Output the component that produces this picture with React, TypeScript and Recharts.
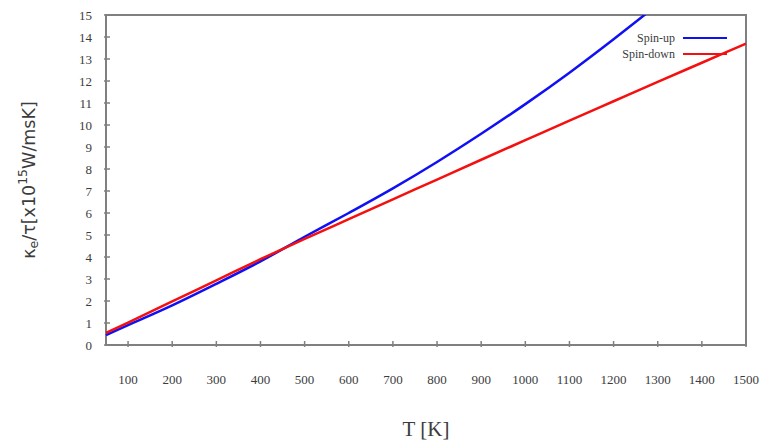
import React from 'react';
import { LineChart, Line, XAxis, YAxis, Legend, ReferenceArea } from 'recharts';

// temperature grid [K]
const temps = [50, 100, 200, 300, 400, 500, 600, 700, 800, 900, 1000, 1100, 1200, 1300, 1400, 1500];
// kappa_e / tau for each spin channel [x10^15 W/msK]
const spinUp = [0.45, 0.9, 1.8, 2.78, 3.8, 4.92, 6.0, 7.12, 8.32, 9.6, 10.95, 12.38, 13.9, 15.48, null, null];
const spinDown = [0.55, 1.02, 1.98, 2.94, 3.9, 4.82, 5.72, 6.62, 7.52, 8.42, 9.31, 10.2, 11.08, 11.96, 12.83, 13.7];

const xTicks = [100, 200, 300, 400, 500, 600, 700, 800, 900, 1000, 1100, 1200, 1300, 1400, 1500];
const yTicks = [0, 1, 2, 3, 4, 5, 6, 7, 8, 9, 10, 11, 12, 13, 14, 15];
const seriesOrder = ['Spin-up', 'Spin-down'];

const data = temps.map((t, i) => ({ t, up: spinUp[i], down: spinDown[i] }));

const AXIS = '#808080';
const LABEL = '#3c3c3c';
const SERIF = '"Liberation Serif", "Times New Roman", serif';
const TICK_LEN = 6;

// gnuplot style: ticks point into the plot, labels only on bottom/left
const BottomTick = ({ x, y, payload }: any) => (
  <g>
    <line x1={x} y1={y} x2={x} y2={y - TICK_LEN} stroke={AXIS} strokeWidth={1.5} />
    <text x={x} y={y + 37} textAnchor="middle" style={{ fontFamily: SERIF, fontSize: 13 }} fill={LABEL}>
      {payload.value}
    </text>
  </g>
);

const TopTick = ({ x, y }: any) => (
  <line x1={x} y1={y} x2={x} y2={y + TICK_LEN} stroke={AXIS} strokeWidth={1.5} />
);

const LeftTick = ({ x, y, payload }: any) => (
  <g>
    <line x1={x} y1={y} x2={x + TICK_LEN} y2={y} stroke={AXIS} strokeWidth={1.5} />
    <text x={x - 12} y={y + 4.5} textAnchor="end" style={{ fontFamily: SERIF, fontSize: 13 }} fill={LABEL}>
      {payload.value}
    </text>
  </g>
);

const RightTick = ({ x, y }: any) => (
  <line x1={x} y1={y} x2={x - TICK_LEN} y2={y} stroke={AXIS} strokeWidth={1.5} />
);

const YLabel = () => (
  <text
    x={29}
    y={180}
    transform="rotate(-90, 29, 180)"
    textAnchor="middle"
    dominantBaseline="central"
    style={{ fontFamily: '"DejaVu Sans", sans-serif', fontSize: 17.5 }}
    fill={LABEL}
  >
    κ<tspan dy={4} fontSize={12.5}>e</tspan>
    <tspan dy={-4}>/τ[x10</tspan>
    <tspan dy={-7} fontSize={12.5}>15</tspan>
    <tspan dy={7}>W/msK]</tspan>
  </text>
);

const XLabel = () => (
  <text x={426} y={436} textAnchor="middle" style={{ fontFamily: SERIF, fontSize: 21 }} fill={LABEL}>
    T [K]
  </text>
);

const renderLegend = ({ payload }: any) => {
  const items = [...(payload || [])].sort(
    (a: any, b: any) => seriesOrder.indexOf(a.value) - seriesOrder.indexOf(b.value)
  );
  return (
    <div style={{ fontFamily: SERIF, fontSize: 12, color: LABEL }}>
      {items.map((entry: any) => (
        <div
          key={entry.value}
          style={{ display: 'flex', alignItems: 'center', justifyContent: 'flex-end', height: 16 }}
        >
          <span>{entry.value}</span>
          <span
            style={{ display: 'inline-block', width: 44, height: 2.5, background: entry.color, marginLeft: 8 }}
          />
        </div>
      ))}
    </div>
  );
};

export default function App() {
  return (
    <div style={{ position: 'fixed', left: 0, top: 0, background: '#fff' }}>
      <LineChart width={767} height={443} data={data} margin={{ top: 15, right: 21, bottom: 0, left: 0 }}>
        <XAxis
          dataKey="t"
          type="number"
          domain={[50, 1500]}
          ticks={xTicks}
          interval={0}
          height={98}
          tickSize={0}
          tickLine={false}
          axisLine={false}
          tick={<BottomTick />}
          label={<XLabel />}
        />
        <XAxis
          xAxisId="top"
          orientation="top"
          dataKey="t"
          type="number"
          domain={[50, 1500]}
          ticks={xTicks}
          interval={0}
          height={0}
          tickSize={0}
          tickLine={false}
          axisLine={false}
          tick={<TopTick />}
        />
        <YAxis
          type="number"
          domain={[0, 15]}
          ticks={yTicks}
          interval={0}
          allowDataOverflow
          width={106}
          tickSize={0}
          tickLine={false}
          axisLine={false}
          tick={<LeftTick />}
          label={<YLabel />}
        />
        <YAxis
          yAxisId="right"
          orientation="right"
          type="number"
          domain={[0, 15]}
          ticks={yTicks}
          interval={0}
          width={0}
          tickSize={0}
          tickLine={false}
          axisLine={false}
          tick={<RightTick />}
        />
        {/* plot frame */}
        <ReferenceArea x1={50} x2={1500} y1={0} y2={15} fill="none" stroke={AXIS} strokeWidth={2} />
        <Legend
          layout="vertical"
          align="center"
          verticalAlign="middle"
          wrapperStyle={{ left: 527, top: 30, width: 200 }}
          content={renderLegend}
        />
        <Line
          type="monotone"
          dataKey="up"
          name="Spin-up"
          stroke="#1010f5"
          strokeWidth={2.5}
          dot={false}
          isAnimationActive={false}
        />
        <Line
          type="monotone"
          dataKey="down"
          name="Spin-down"
          stroke="#f51010"
          strokeWidth={2.5}
          dot={false}
          isAnimationActive={false}
        />
      </LineChart>
    </div>
  );
}
